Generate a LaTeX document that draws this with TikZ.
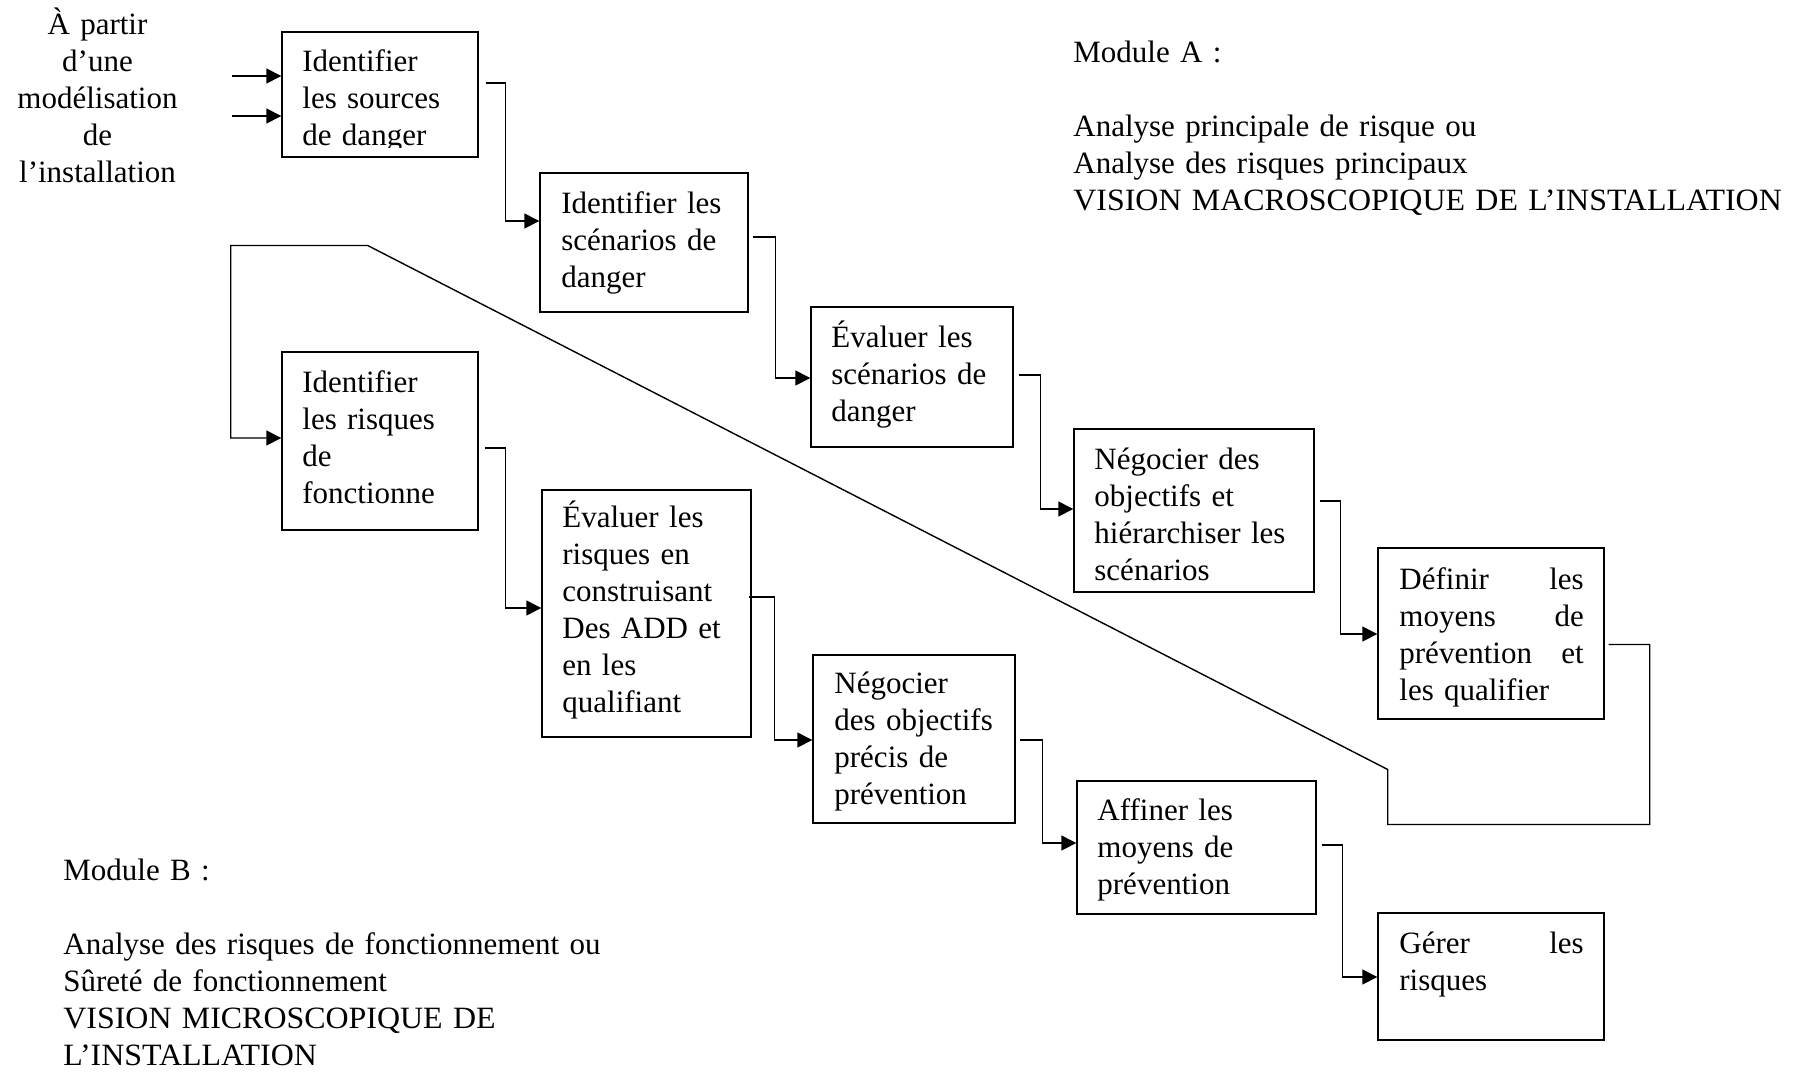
\documentclass[tikz,border=0pt]{standalone}
\usepackage{fontspec}
\setmainfont{Liberation Serif}
\newfontfamily\capsfont[FakeStretch=1.03]{Liberation Serif}
\usetikzlibrary{arrows.meta,calc,fit}
\begin{document}
\begin{tikzpicture}[x=0.5pt,y=-0.5pt,
  box/.style={draw, line width=0.7pt, inner sep=0pt},
  txt/.style={anchor=base west, inner sep=0pt, align=left, text width=#1,
              font=\fontsize{15.5pt}{18.5pt}\selectfont},
  txt/.default=130pt,
  conn/.style={line width=0.7pt},
  arr/.style={conn, -{Triangle[length=7.5pt,width=7.5pt]}}]

\useasboundingbox[fill=white] (0,0) rectangle (1798,1071);

% ---- boxes ----
\node[box, fit={(282,32) (478,157)}]    (b1) {};
\node[box, fit={(540,173) (748,312)}]   (b2) {};
\node[box, fit={(811,307) (1013,447)}]  (b3) {};
\node[box, fit={(1074,429) (1314,592)}] (b4) {};
\node[box, fit={(1378,548) (1604,719)}] (b5) {};
\node[box, fit={(282,352) (478,530)}]   (b6) {};
\node[box, fit={(542,490) (751,737)}]   (b7) {};
\node[box, fit={(813,655) (1015,823)}]  (b8) {};
\node[box, fit={(1077,781) (1316,914)}] (b9) {};
\node[box, fit={(1378,913) (1604,1040)}] (b10) {};

% ---- texts ----
\node[anchor=base, inner sep=0pt, align=center, text width=110pt,
      font=\fontsize{15.5pt}{18.5pt}\selectfont] (src) at (97.5,34)
  {À partir\\d’une\\modélisation\\de\\l’installation};

\begin{scope}
  \clip (282,32) rectangle (478,147);
  \node[txt] (t1) at (302,71) {Identifier\\les sources\\de danger};
\end{scope}
\node[txt] (t2) at (561,213) {Identifier les\\scénarios de\\danger};
\node[txt] (t3) at (831,347) {Évaluer les\\scénarios de\\danger};
\node[txt] (t4) at (1094,469) {Négocier des\\objectifs et\\hiérarchiser les\\scénarios};
\node[txt=92.2pt] (t5) at (1399,589) {Définir\hfill les\\moyens\hfill de\\prévention\hfill et\\les qualifier};
\node[txt] (t6) at (302,392) {Identifier\\les risques\\de\\fonctionne};
\node[txt] (t7) at (562,527) {Évaluer les\\risques en\\construisant\\Des ADD et\\en les\\qualifiant};
\node[txt] (t8) at (834,693) {Négocier\\des objectifs\\précis de\\prévention};
\node[txt] (t9) at (1097,820) {Affiner les\\moyens de\\prévention};
\node[txt=92.2pt] (t10) at (1399,953) {Gérer\hfill les\\risques};

\node[txt=420pt] (modA) at (1073,62) {Module A :\\[18.5pt]Analyse principale de risque ou\\Analyse des risques principaux\\{\capsfont VISION MACROSCOPIQUE DE L’INSTALLATION}};
\node[txt=420pt] (modB) at (63,880) {Module B :\\[18.5pt]Analyse des risques de fonctionnement ou\\Sûreté de fonctionnement\\{\capsfont VISION MICROSCOPIQUE DE}\\{\capsfont L’INSTALLATION}};

% ---- input arrows ----
\coordinate (in1) at (232,76);
\coordinate (in2) at (232,116);
\draw[arr] (in1) -- (in1 -| b1.west);
\draw[arr] (in2) -- (in2 -| b1.west);

% ---- connectors ----
\draw[arr] ($(b1.east)+(7,-11.5)$) -- ++(20,0) |- ($(b2.west)+(0,-21.5)$);
\draw[arr] ($(b2.east)+(4,-5.5)$) -- ++(23,0) |- ($(b3.west)+(0,1)$);
\draw[arr] ($(b3.east)+(5,-2)$) -- ++(22,0) |- ($(b4.west)+(0,-1.5)$);
\draw[arr] ($(b4.east)+(5,-9.5)$) -- ++(21,0) |- ($(b5.west)+(0,0.5)$);
\draw[arr] ($(b5.east)+(4,11)$) -- ++(41,0) -- ++(0,180) -- ++(-262,0)
   -- ++(0,-55) -- ++(-1020,-524) -- ++(-137,0) |- ($(b6.west)+(0,-3)$);
\draw[arr] ($(b6.east)+(6,7)$) -- ++(21,0) |- ($(b7.west)+(0,-5.5)$);
\draw[arr] ($(b7.east)+(-3,-16.5)$) -- ++(26,0) |- ($(b8.west)+(0,1)$);
\draw[arr] ($(b8.east)+(4,1)$) -- ++(23,0) |- ($(b9.west)+(0,-4.5)$);
\draw[arr] ($(b9.east)+(5,-2.5)$) -- ++(21,0) |- ($(b10.west)+(0,0.5)$);

\end{tikzpicture}
\end{document}
